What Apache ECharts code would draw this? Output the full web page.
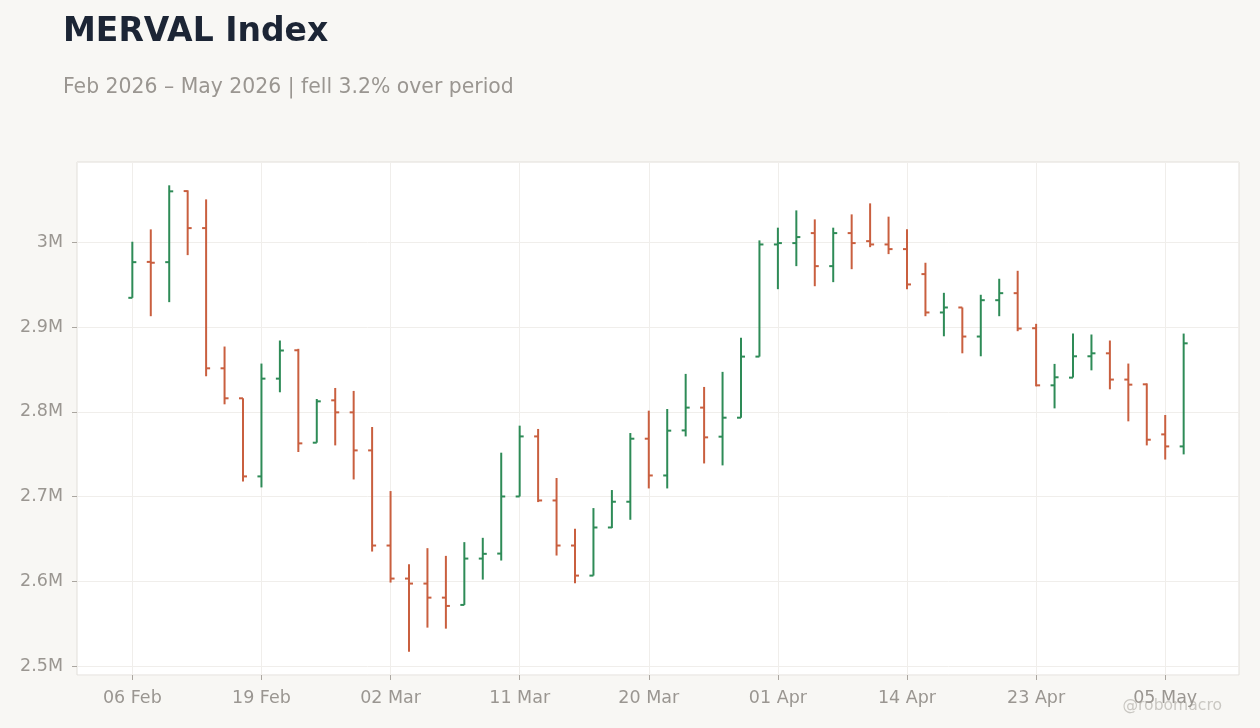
<!DOCTYPE html>
<html>
<head>
<meta charset="utf-8">
<title>MERVAL Index</title>
<script src="https://cdn.jsdelivr.net/npm/echarts@6/dist/echarts.min.js"></script>
<style>
  html, body { margin: 0; padding: 0; background: #f8f7f4; }
  #chart { width: 1260px; height: 728px; }
</style>
</head>
<body>
<div id="chart"></div>
<script>
// trading days (Buenos Aires), Feb - May 2026
var dates = [
  '06 Feb', '09 Feb', '10 Feb', '11 Feb', '12 Feb', '13 Feb', '18 Feb',
  '19 Feb', '20 Feb', '23 Feb', '24 Feb', '25 Feb', '26 Feb', '27 Feb',
  '02 Mar', '03 Mar', '04 Mar', '05 Mar', '06 Mar', '09 Mar', '10 Mar',
  '11 Mar', '12 Mar', '13 Mar', '16 Mar', '17 Mar', '18 Mar', '19 Mar',
  '20 Mar', '23 Mar', '25 Mar', '26 Mar', '27 Mar', '30 Mar', '31 Mar',
  '01 Apr', '06 Apr', '07 Apr', '08 Apr', '09 Apr', '10 Apr', '13 Apr',
  '14 Apr', '15 Apr', '16 Apr', '17 Apr', '20 Apr', '21 Apr', '22 Apr',
  '23 Apr', '24 Apr', '27 Apr', '28 Apr', '29 Apr', '30 Apr', '04 May',
  '05 May', '06 May'
];
var opens = [
  2934600, 2977000, 2976700, 3060600, 3016900, 2851400, 2816000,
  2723800, 2839200, 2872700, 2763600, 2813600, 2799400, 2754500,
  2642200, 2603200, 2597300, 2580700, 2572100, 2626800, 2632700,
  2700100, 2771000, 2695400, 2642200, 2606700, 2663500, 2693900,
  2768300, 2724900, 2778100, 2805000, 2770700, 2793100, 2865200,
  2997600, 2999200, 3011000, 2972000, 3011000, 3001500, 2997600,
  2992100, 2962600, 2917300, 2923200, 2888900, 2931800, 2940100,
  2898700, 2831300, 2840400, 2865600, 2869100, 2838100, 2832500,
  2773400, 2759200
];
var highs = [
  3000800, 3015400, 3067400, 3061500, 3050800, 2877100, 2816000,
  2857000, 2884200, 2874400, 2815200, 2828200, 2824700, 2782100,
  2706500, 2620200, 2639100, 2630000, 2646200, 2651300, 2751800,
  2783700, 2779800, 2721900, 2661900, 2686400, 2707700, 2775000,
  2801400, 2803400, 2844800, 2829400, 2847200, 2887400, 3002400,
  3017400, 3037800, 3027200, 3017400, 3033100, 3046100, 3030400,
  3015400, 2976000, 2940500, 2923200, 2938200, 2957100, 2966500,
  2903900, 2856600, 2892400, 2891300, 2884200, 2857000, 2833600,
  2796300, 2892400
];
var lows = [
  2934600, 2912900, 2929500, 2985000, 2842000, 2808900, 2717900,
  2710800, 2823100, 2752600, 2763600, 2760400, 2720200, 2635100,
  2598500, 2516900, 2545300, 2544100, 2572100, 2602000, 2624500,
  2700100, 2693500, 2630400, 2597800, 2606700, 2662800, 2672600,
  2709600, 2709600, 2771000, 2739100, 2736800, 2793100, 2865200,
  2944800, 2972000, 2948300, 2953100, 2968400, 2994400, 2986200,
  2944800, 2912900, 2889200, 2869100, 2865600, 2912900, 2895200,
  2830100, 2804100, 2840400, 2849000, 2826600, 2788800, 2760400,
  2743700, 2749800
];
var closes = [
  2976700, 2976000, 3060300, 3016900, 2851400, 2816000, 2723800,
  2839200, 2872400, 2762800, 2812400, 2799400, 2754500, 2642200,
  2603200, 2597300, 2580700, 2570900, 2626800, 2632400, 2700100,
  2771000, 2695400, 2642200, 2606700, 2663500, 2693900, 2768300,
  2724900, 2777800, 2805000, 2769900, 2793100, 2865200, 2997600,
  2999200, 3006300, 2972000, 3011000, 2999200, 2997600, 2992100,
  2950400, 2917300, 2923200, 2888900, 2931800, 2940100, 2898300,
  2831300, 2840800, 2865600, 2869100, 2838100, 2832100, 2767100,
  2759200, 2880900
];

var UP = '#2e8b57';
var DOWN = '#c95f3f';
var PAD = 3; // empty slots either side of the bars
var FONT = 'DejaVu Sans';

// category list with blank slots at both ends
var cats = [];
for (var p = 0; p < PAD; p++) cats.push('');
cats = cats.concat(dates);
for (var q = 0; q < PAD; q++) cats.push('');

var ohlc = dates.map(function (d, i) {
  return [i + PAD, opens[i], closes[i], lows[i], highs[i]];
});

// 5% headroom above / below the price range
var lo = Math.min.apply(null, lows);
var hi = Math.max.apply(null, highs);
var span = hi - lo;

function everyWeek(idx) {
  var k = idx - PAD;
  return k >= 0 && k < dates.length && k % 7 === 0;
}

var chart = echarts.init(document.getElementById('chart'));
chart.setOption({
  backgroundColor: '#f8f7f4',
  animation: false,
  title: [{
    text: 'MERVAL Index',
    left: 58,
    top: 11,
    textStyle: { fontFamily: FONT, fontSize: 33, fontWeight: 'bold', color: '#1c2535' }
  }, {
    text: 'Feb 2026 – May 2026 | fell 3.2% over period',
    left: 58,
    top: 73,
    textStyle: { fontFamily: FONT, fontSize: 20.4, fontWeight: 'normal', color: '#9a9691' }
  }],
  graphic: [{
    type: 'text',
    right: 38,
    bottom: 14,
    style: { text: '@robomacro', font: '15.6px "DejaVu Sans"', fill: 'rgba(170,166,160,0.6)' }
  }],
  grid: {
    left: 77, right: 21, top: 162, bottom: 53,
    show: true,
    backgroundColor: '#ffffff',
    borderColor: '#e2dfda',
    borderWidth: 1
  },
  xAxis: {
    type: 'category',
    data: cats,
    boundaryGap: false,
    axisLine: { show: false },
    axisTick: { show: true, length: 5, interval: everyWeek, lineStyle: { color: '#aaa6a0' } },
    axisLabel: { interval: everyWeek, margin: 14, fontFamily: FONT, fontSize: 17.5, color: '#9a9691' },
    splitLine: { show: true, interval: everyWeek, lineStyle: { color: '#f0eeeb' } }
  },
  yAxis: {
    type: 'value',
    min: lo - span * 0.05,
    max: hi + span * 0.05,
    axisLine: { show: false },
    axisTick: { show: true, length: 5, lineStyle: { color: '#aaa6a0' } },
    axisLabel: {
      showMinLabel: false,
      showMaxLabel: false,
      margin: 14,
      fontFamily: FONT,
      fontSize: 17.5,
      color: '#9a9691',
      formatter: function (v) { return (v / 1e6) + 'M'; }
    },
    splitLine: { lineStyle: { color: '#f0eeeb' } }
  },
  series: [{
    type: 'custom',
    data: ohlc,
    encode: { x: 0, y: [1, 2, 3, 4] },
    renderItem: function (params, api) {
      var x = api.value(0);
      var o = api.coord([x, api.value(1)]);
      var c = api.coord([x, api.value(2)]);
      var l = api.coord([x, api.value(3)]);
      var h = api.coord([x, api.value(4)]);
      var col = api.value(2) >= api.value(1) ? UP : DOWN;
      var st = { stroke: col, lineWidth: 2 };
      return {
        type: 'group',
        children: [
          { type: 'line', shape: { x1: h[0], y1: h[1], x2: l[0], y2: l[1] }, style: st },
          { type: 'line', shape: { x1: o[0] - 4, y1: o[1], x2: o[0], y2: o[1] }, style: st },
          { type: 'line', shape: { x1: c[0], y1: c[1], x2: c[0] + 4, y2: c[1] }, style: st }
        ]
      };
    }
  }]
});
</script>
</body>
</html>
